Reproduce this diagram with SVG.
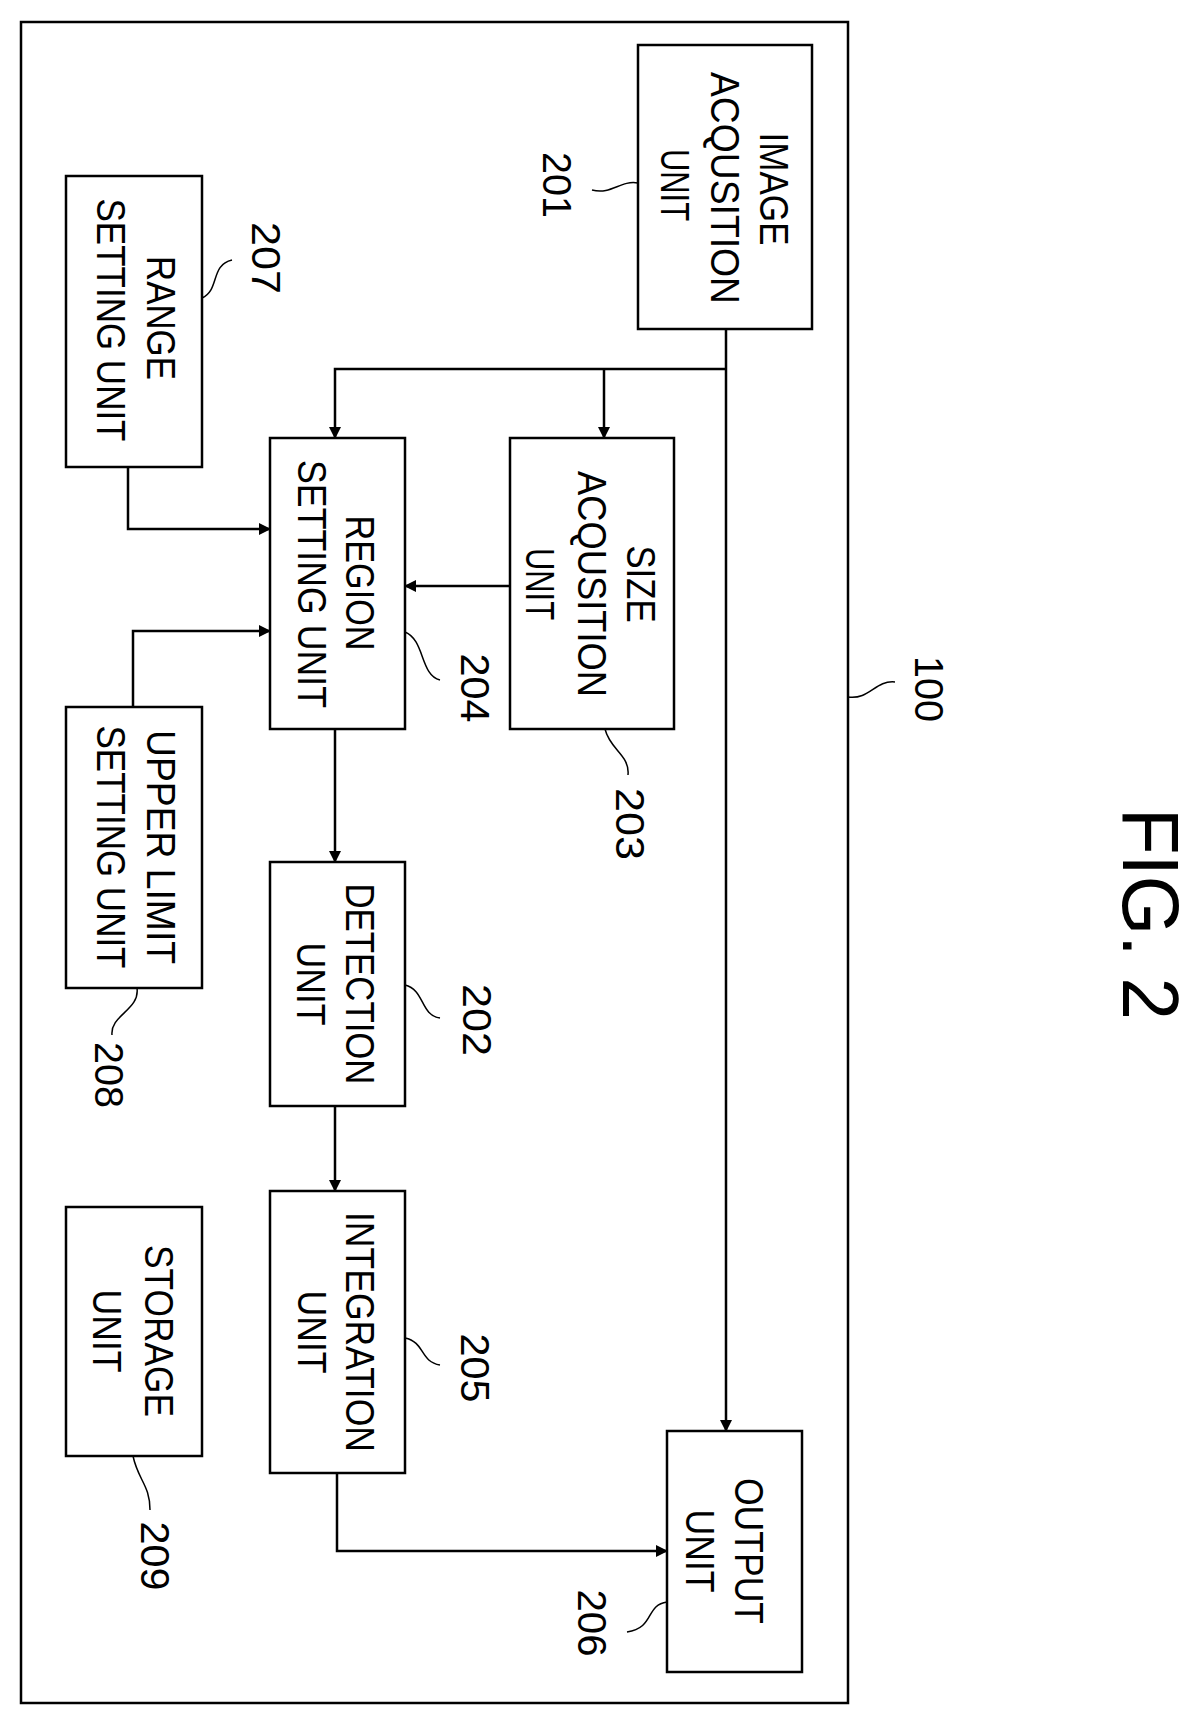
<svg xmlns="http://www.w3.org/2000/svg" width="1196" height="1720" viewBox="0 0 1196 1720">
<style>
.b{fill:#fff;stroke:#000;stroke-width:2.5}
.t{font-family:"Liberation Sans",Arial,sans-serif;font-size:40px;text-anchor:middle;dominant-baseline:central;fill:#000}
.c{fill:none;stroke:#000;stroke-width:2.5}
.l{fill:none;stroke:#000;stroke-width:1.5}
</style>
<defs><marker id="a" markerWidth="12" markerHeight="12" refX="11" refY="6" orient="auto" markerUnits="userSpaceOnUse"><path d="M0,0 L12,6 L0,12 Z" fill="#000"/></marker></defs>
<rect x="21" y="22" width="827" height="1681" fill="none" stroke="#000" stroke-width="2.5"/>
<g id="n100"><path class="l" d="M848,697 C870,700 875,680 895,682"/><text class="t" transform="translate(929,689) rotate(90)" textLength="66" lengthAdjust="spacingAndGlyphs">100</text></g>
<g id="n201"><rect class="b" x="638" y="45" width="174" height="284"/>
<text class="t" transform="translate(774,189) rotate(90)" textLength="113" lengthAdjust="spacingAndGlyphs">IMAGE</text>
<text class="t" transform="translate(725,188) rotate(90)" textLength="232" lengthAdjust="spacingAndGlyphs">ACQUSITION</text>
<text class="t" transform="translate(675,185) rotate(90)" textLength="72" lengthAdjust="spacingAndGlyphs">UNIT</text>
<path class="l" d="M638,183 C620,180 612,195 592,190"/><text class="t" transform="translate(557,185) rotate(90)" textLength="66" lengthAdjust="spacingAndGlyphs">201</text></g>
<g id="n207"><rect class="b" x="66" y="176" width="136" height="291"/>
<text class="t" transform="translate(161,318) rotate(90)" textLength="124" lengthAdjust="spacingAndGlyphs">RANGE</text>
<text class="t" transform="translate(111,320) rotate(90)" textLength="243" lengthAdjust="spacingAndGlyphs">SETTING UNIT</text>
<path class="l" d="M202,298 C220,290 210,265 232,260"/><text class="t" transform="translate(266,258) rotate(90)" textLength="72" lengthAdjust="spacingAndGlyphs">207</text></g>
<g id="n203"><rect class="b" x="510" y="438" width="164" height="291"/>
<text class="t" transform="translate(641,584) rotate(90)" textLength="77" lengthAdjust="spacingAndGlyphs">SIZE</text>
<text class="t" transform="translate(592,584) rotate(90)" textLength="226" lengthAdjust="spacingAndGlyphs">ACQUSITION</text>
<text class="t" transform="translate(540,584) rotate(90)" textLength="72" lengthAdjust="spacingAndGlyphs">UNIT</text>
<path class="l" d="M605,729 C610,750 630,755 628,775"/><text class="t" transform="translate(630,824) rotate(90)" textLength="72" lengthAdjust="spacingAndGlyphs">203</text></g>
<g id="n204"><rect class="b" x="270" y="438" width="135" height="291"/>
<text class="t" transform="translate(360,583) rotate(90)" textLength="135" lengthAdjust="spacingAndGlyphs">REGION</text>
<text class="t" transform="translate(312,584) rotate(90)" textLength="248" lengthAdjust="spacingAndGlyphs">SETTING UNIT</text>
<path class="l" d="M405,632 C425,640 420,675 440,680"/><text class="t" transform="translate(475,688) rotate(90)" textLength="69" lengthAdjust="spacingAndGlyphs">204</text></g>
<g id="n208"><rect class="b" x="66" y="707" width="136" height="281"/>
<text class="t" transform="translate(161,847) rotate(90)" textLength="234" lengthAdjust="spacingAndGlyphs">UPPER LIMIT</text>
<text class="t" transform="translate(111,847) rotate(90)" textLength="243" lengthAdjust="spacingAndGlyphs">SETTING UNIT</text>
<path class="l" d="M137,988 C140,1010 110,1015 112,1035"/><text class="t" transform="translate(109,1075) rotate(90)" textLength="66" lengthAdjust="spacingAndGlyphs">208</text></g>
<g id="n202"><rect class="b" x="270" y="862" width="135" height="244"/>
<text class="t" transform="translate(360,984) rotate(90)" textLength="201" lengthAdjust="spacingAndGlyphs">DETECTION</text>
<text class="t" transform="translate(311,984) rotate(90)" textLength="83" lengthAdjust="spacingAndGlyphs">UNIT</text>
<path class="l" d="M405,985 C425,990 420,1015 440,1018"/><text class="t" transform="translate(477,1020) rotate(90)" textLength="72" lengthAdjust="spacingAndGlyphs">202</text></g>
<g id="n205"><rect class="b" x="270" y="1191" width="135" height="282"/>
<text class="t" transform="translate(360,1332) rotate(90)" textLength="240" lengthAdjust="spacingAndGlyphs">INTEGRATION</text>
<text class="t" transform="translate(312,1332) rotate(90)" textLength="83" lengthAdjust="spacingAndGlyphs">UNIT</text>
<path class="l" d="M405,1338 C425,1342 420,1362 440,1365"/><text class="t" transform="translate(475,1368) rotate(90)" textLength="69" lengthAdjust="spacingAndGlyphs">205</text></g>
<g id="n209"><rect class="b" x="66" y="1207" width="136" height="249"/>
<text class="t" transform="translate(159,1331) rotate(90)" textLength="172" lengthAdjust="spacingAndGlyphs">STORAGE</text>
<text class="t" transform="translate(107,1331) rotate(90)" textLength="83" lengthAdjust="spacingAndGlyphs">UNIT</text>
<path class="l" d="M133,1456 C138,1480 150,1485 150,1510"/><text class="t" transform="translate(155,1556) rotate(90)" textLength="69" lengthAdjust="spacingAndGlyphs">209</text></g>
<g id="n206"><rect class="b" x="667" y="1431" width="135" height="241"/>
<text class="t" transform="translate(749,1551) rotate(90)" textLength="146" lengthAdjust="spacingAndGlyphs">OUTPUT</text>
<text class="t" transform="translate(700,1551) rotate(90)" textLength="83" lengthAdjust="spacingAndGlyphs">UNIT</text>
<path class="l" d="M667,1602 C645,1605 655,1628 627,1632"/><text class="t" transform="translate(592,1623) rotate(90)" textLength="67" lengthAdjust="spacingAndGlyphs">206</text></g>
<g id="connectors">
<path class="c" d="M726,329 V1431" marker-end="url(#a)"/>
<path class="c" d="M726,369 H335 V438" marker-end="url(#a)"/>
<path class="c" d="M604,369 V438" marker-end="url(#a)"/>
<path class="c" d="M510,586 H405" marker-end="url(#a)"/>
<path class="c" d="M128,467 V529 H270" marker-end="url(#a)"/>
<path class="c" d="M133,707 V631 H270" marker-end="url(#a)"/>
<path class="c" d="M335,729 V862" marker-end="url(#a)"/>
<path class="c" d="M335,1106 V1191" marker-end="url(#a)"/>
<path class="c" d="M337,1473 V1551 H667" marker-end="url(#a)"/>
</g>
<text class="t" style="font-size:80px" transform="translate(1150,914) rotate(90)" textLength="212" lengthAdjust="spacingAndGlyphs">FIG. 2</text>
</svg>
